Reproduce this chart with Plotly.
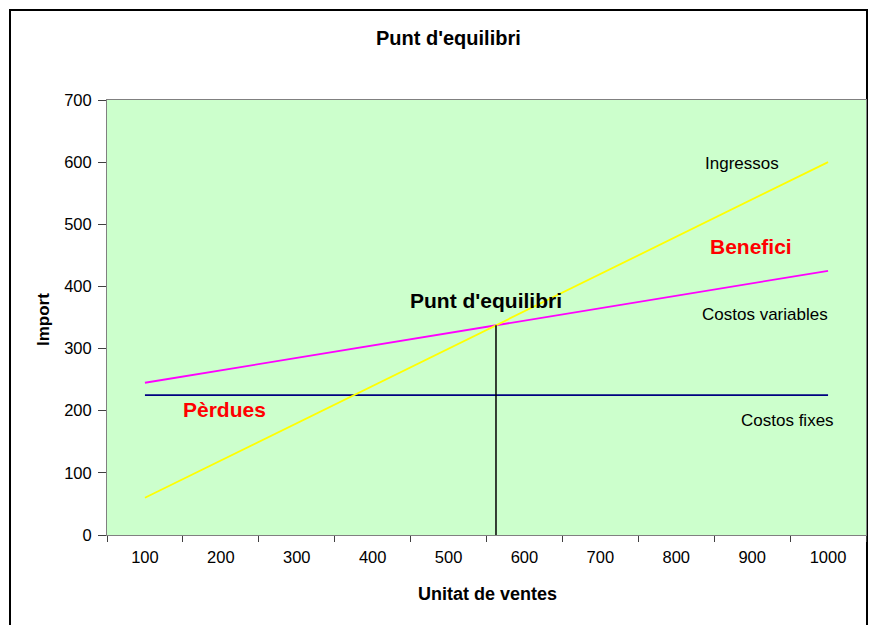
import plotly.graph_objects as go

units = [100, 200, 300, 400, 500, 600, 700, 800, 900, 1000]
ingressos = [60, 120, 180, 240, 300, 360, 420, 480, 540, 600]
costos_variables = [245, 265, 285, 305, 325, 345, 365, 385, 405, 425]
costos_fixes = [225, 225, 225, 225, 225, 225, 225, 225, 225, 225]
break_even_units = 562.5
break_even_import = 337.5

cats = [str(u) for u in units]

fig = go.Figure()
fig.add_trace(go.Scatter(x=cats, y=costos_fixes, mode="lines",
                         line=dict(color="#000080", width=1.8), name="Costos fixes"))
fig.add_trace(go.Scatter(x=cats, y=costos_variables, mode="lines",
                         line=dict(color="#FF00FF", width=1.8), name="Costos variables"))
fig.add_trace(go.Scatter(x=cats, y=ingressos, mode="lines",
                         line=dict(color="#FFFF00", width=1.8), name="Ingressos"))

# category serial position of break-even point
be_pos = (break_even_units - units[0]) / (units[1] - units[0])

W, H = 869, 625
L, R, T, B = 107, 3, 100, 90
pw, ph = W - L - R, H - T - B

def px(x):  # page pixel -> paper
    return (x - L) / pw

def py(y):
    return (H - B - y) / ph

shapes = [
    dict(type="line", xref="x", yref="y", x0=be_pos, x1=be_pos, y0=0, y1=break_even_import,
         line=dict(color="black", width=1.5)),
    dict(type="rect", xref="paper", yref="paper", x0=px(10), x1=px(867), y0=py(10), y1=py(660),
         line=dict(color="black", width=2), fillcolor="rgba(0,0,0,0)", layer="below"),
]

F = "Liberation Sans, Arial, sans-serif"
ann = [
    dict(text="<b>Punt d'equilibri</b>", xref="paper", yref="paper", x=px(448), y=py(38),
         font=dict(size=20, color="black")),
    dict(text="<b>Import</b>", xref="paper", yref="paper", x=px(43), y=py(320), textangle=-90,
         font=dict(size=17, color="black")),
    dict(text="<b>Unitat de ventes</b>", xref="paper", yref="paper", x=px(487), y=py(594),
         font=dict(size=18, color="black")),
    dict(text="Ingressos", xref="x", yref="y", x=7.87, y=598, font=dict(size=17, color="black")),
    dict(text="<b>Benefici</b>", xref="x", yref="y", x=7.98, y=465, font=dict(size=21, color="#FF0000")),
    dict(text="<b>Punt d'equilibri</b>", xref="x", yref="y", x=4.49, y=377, font=dict(size=21, color="black")),
    dict(text="Costos variables", xref="x", yref="y", x=8.17, y=355, font=dict(size=17, color="black")),
    dict(text="<b>Pèrdues</b>", xref="x", yref="y", x=1.05, y=202, font=dict(size=21, color="#FF0000")),
    dict(text="Costos fixes", xref="x", yref="y", x=8.47, y=185, font=dict(size=17, color="black")),
]
for a in ann:
    a["showarrow"] = False
    a["xanchor"] = "center"
    a["yanchor"] = "middle"

fig.update_layout(
    width=W, height=H,
    margin=dict(l=L, r=R, t=T, b=B),
    paper_bgcolor="white",
    plot_bgcolor="#CCFFCC",
    showlegend=False,
    font=dict(family=F, size=16, color="black"),
    shapes=shapes,
    annotations=ann,
    xaxis=dict(type="category", range=[-0.5, 9.5], tickson="boundaries", ticks="outside",
               ticklen=6, tickcolor="#404040", showgrid=False, showline=True, linecolor="#808080",
               linewidth=1, mirror=True, tickfont=dict(size=16.5), zeroline=False,
               ticklabelstandoff=7),
    yaxis=dict(range=[0, 700], dtick=100, ticks="outside", ticklen=8, tickcolor="#404040",
               showgrid=False, showline=True, linecolor="#808080", linewidth=1, mirror=True,
               tickfont=dict(size=16.5), zeroline=False, ticklabelstandoff=3),
)

fig.write_html(
    "out.html",
    config={"displayModeBar": False},
    post_script="document.body.style.margin='0';document.body.style.overflow='hidden';",
)
